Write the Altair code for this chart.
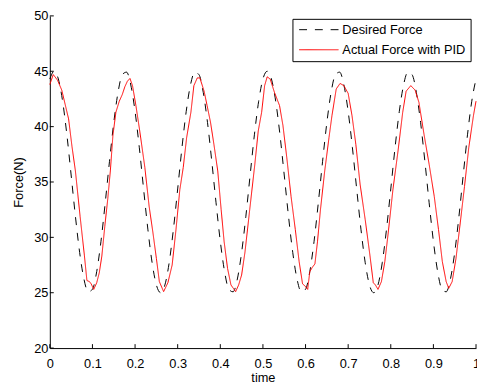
import altair as alt
import pandas as pd

# ---------------- data ----------------
series_names = ["Desired Force", "Actual Force with PID"]

desired_time = [round(0.01 * k, 2) for k in range(101)]
desired_force = [
    44.30,
    45.00, 44.30, 42.29, 39.26, 35.63, 31.91, 28.63, 26.24, 25.08, 25.31,
    26.91, 29.64, 33.13, 36.87, 40.36, 43.09, 44.69, 44.92, 43.76, 41.37,
    38.09, 34.37, 30.74, 27.71, 25.70, 25.00, 25.70, 27.71, 30.74, 34.37,
    38.09, 41.37, 43.76, 44.92, 44.69, 43.09, 40.36, 36.87, 33.13, 29.64,
    26.91, 25.31, 25.08, 26.24, 28.63, 31.91, 35.63, 39.26, 42.29, 44.30,
    45.00, 44.30, 42.29, 39.26, 35.63, 31.91, 28.63, 26.24, 25.08, 25.31,
    26.91, 29.64, 33.13, 36.87, 40.36, 43.09, 44.69, 44.92, 43.76, 41.37,
    38.09, 34.37, 30.74, 27.71, 25.70, 25.00, 25.70, 27.71, 30.74, 34.37,
    38.09, 41.37, 43.76, 44.92, 44.69, 43.09, 40.36, 36.87, 33.13, 29.64,
    26.91, 25.31, 25.08, 26.24, 28.63, 31.91, 35.63, 39.26, 42.29, 44.30,
]

actual_time = [
    0.000, 0.008, 0.018, 0.028, 0.036, 0.044, 0.052, 0.060, 0.071, 0.081,
    0.087, 0.093, 0.097, 0.103, 0.110, 0.116, 0.122, 0.129, 0.136, 0.142,
    0.148, 0.155, 0.163, 0.170, 0.176, 0.182, 0.188, 0.194, 0.202, 0.211,
    0.223, 0.233, 0.242, 0.250, 0.257, 0.267, 0.277, 0.287, 0.296, 0.305,
    0.313, 0.321, 0.331, 0.338, 0.346, 0.352, 0.362, 0.369, 0.377, 0.385,
    0.394, 0.402, 0.409, 0.417, 0.425, 0.436, 0.443, 0.450, 0.458, 0.469,
    0.481, 0.489, 0.497, 0.504, 0.510, 0.517, 0.527, 0.539, 0.547, 0.556,
    0.566, 0.576, 0.585, 0.593, 0.599, 0.605, 0.610, 0.616, 0.622, 0.628,
    0.635, 0.645, 0.655, 0.662, 0.672, 0.681, 0.690, 0.700, 0.709, 0.718,
    0.728, 0.740, 0.751, 0.759, 0.764, 0.770, 0.778, 0.786, 0.794, 0.805,
    0.817, 0.828, 0.836, 0.847, 0.857, 0.866, 0.878, 0.890, 0.902, 0.912,
    0.921, 0.930, 0.936, 0.944, 0.953, 0.963, 0.973, 0.983, 0.994, 1.000,
]
actual_force = [
    43.8, 44.7, 44.2, 43.3, 42.0, 40.7, 38.2, 36.0, 31.9, 28.4,
    26.1, 26.0, 25.8, 25.3, 25.9, 26.8, 28.3, 31.0, 33.5, 36.0,
    39.2, 41.3, 42.3, 42.9, 43.6, 44.1, 44.35, 43.7, 41.9, 39.6,
    36.3, 32.8, 30.4, 28.1, 26.0, 25.1, 25.9, 27.5, 30.7, 34.3,
    36.3, 39.0, 41.3, 43.7, 44.4, 44.4, 43.2, 41.9, 40.4, 38.4,
    36.0, 32.5, 29.6, 27.2, 25.7, 25.1, 25.7, 26.6, 28.7, 32.5,
    36.6, 39.6, 41.3, 43.7, 44.5, 44.3, 43.1, 41.9, 40.1, 37.2,
    33.7, 30.7, 27.8, 25.8, 25.6, 25.3, 26.9, 27.3, 27.6, 29.6,
    32.5, 36.0, 39.0, 41.0, 43.4, 43.9, 43.7, 43.0, 41.0, 38.4,
    34.8, 31.6, 28.4, 25.9, 25.7, 25.3, 26.0, 27.8, 30.4, 34.3,
    37.8, 41.3, 43.2, 43.7, 43.3, 42.2, 39.3, 36.6, 33.7, 30.7,
    27.8, 26.0, 25.4, 26.0, 28.1, 31.3, 34.6, 38.1, 41.0, 42.3,
]

x_ticks = [0, 0.1, 0.2, 0.3, 0.4, 0.5, 0.6, 0.7, 0.8, 0.9, 1]
y_ticks = [20, 25, 30, 35, 40, 45, 50]

assert len(desired_time) == len(desired_force)
assert len(actual_time) == len(actual_force)

# ---------------- tables ----------------
df_des = pd.DataFrame({"t": desired_time, "force": desired_force, "series": series_names[0]})
df_act = pd.DataFrame({"t": actual_time, "force": actual_force, "series": series_names[1]})
df_xt = pd.DataFrame({"t": x_ticks})
df_yt = pd.DataFrame({"force": y_ticks})

W, H = 433, 337.5
FONT = "Liberation Sans"

xscale = alt.Scale(domain=[0, 1], nice=False, zero=False)
yscale = alt.Scale(domain=[20, 50], nice=False, zero=False)
cscale = alt.Scale(domain=series_names, range=["#000000", "#ff0000"])
dscale = alt.Scale(domain=series_names, range=[[8, 8], [1, 0]])

legend = alt.Legend(
    title=None, orient="none", legendX=246.5, legendY=3,
    symbolType="M-4,0L4,0", symbolSize=100, symbolStrokeWidth=1,
    symbolOffset=15.8, labelOffset=17.4, rowPadding=6.4, padding=4.5,
    strokeColor="#000000", fillColor="#ffffff",
    labelFont=FONT, labelFontSize=13, labelColor="#000000",
)

x_enc = alt.X(
    "t:Q", scale=xscale,
    axis=alt.Axis(values=x_ticks, format=".1~f", title="time", labelFlush=False,
                  labelOverlap=False, labelPadding=9.5, titleX=W / 2, titleY=33.5,
                  titleBaseline="alphabetic"),
)
y_enc = alt.Y(
    "force:Q", scale=yscale,
    axis=alt.Axis(values=y_ticks, title="Force(N)", labelPadding=2, labelOverlap=False,
                  titleX=-27.5, titleY=H / 2, titleBaseline="alphabetic"),
)

color_enc = alt.Color("series:N", scale=cscale, legend=legend)
dash_enc = alt.StrokeDash("series:N", scale=dscale, legend=legend)

des_line = alt.Chart(df_des).mark_line(strokeWidth=1, interpolate="monotone").encode(
    x=x_enc, y=y_enc, color=color_enc, strokeDash=dash_enc)
act_line = alt.Chart(df_act).mark_line(strokeWidth=1).encode(
    x=alt.X("t:Q", scale=xscale), y=alt.Y("force:Q", scale=yscale),
    color=color_enc, strokeDash=dash_enc)

x_tick_rules = alt.Chart(df_xt).mark_rule(color="#000000", strokeWidth=1).encode(
    x=alt.X("t:Q", scale=xscale), y=alt.value(H), y2=alt.value(H - 4))
y_tick_rules = alt.Chart(df_yt).mark_rule(color="#000000", strokeWidth=1).encode(
    y=alt.Y("force:Q", scale=yscale), x=alt.value(0), x2=alt.value(4))

chart = (
    alt.layer(des_line, act_line, x_tick_rules, y_tick_rules)
    .properties(
        width=W, height=H,
        autosize=alt.AutoSizeParams(type="none"),
        padding={"left": 42.5, "top": 5, "right": 1, "bottom": 35.5},
        background="#ffffff",
    )
    .configure_view(stroke="transparent")
    .configure_axis(
        grid=False, ticks=False, domainColor="#000000", domainWidth=1,
        labelFont=FONT, labelFontSize=13, labelColor="#000000",
        titleFont=FONT, titleFontSize=13, titleFontWeight="normal", titleColor="#000000",
    )
)

chart.save("out.html", embed_options={"renderer": "svg", "actions": False})
